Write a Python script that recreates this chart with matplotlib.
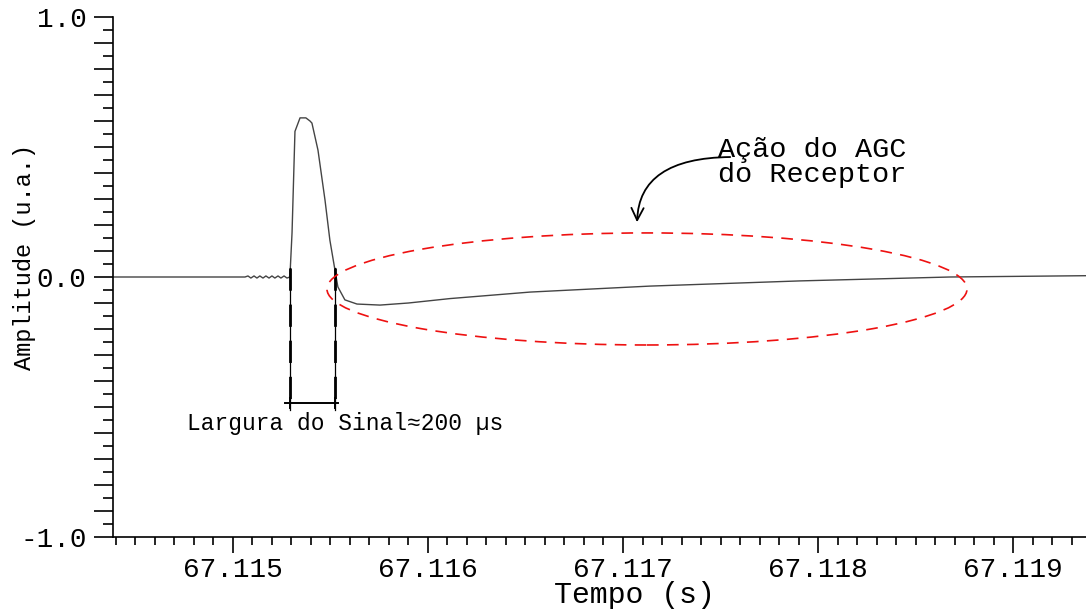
import numpy as np
import matplotlib.pyplot as plt
from matplotlib.patches import Ellipse
from matplotlib.ticker import MultipleLocator, FuncFormatter

# ---------------- DATA ----------------
# time (s) and amplitude (u.a.)
t = [67.114385, 67.115062, 67.115077, 67.115092, 67.115108, 67.115123,
     67.115138, 67.115154, 67.115169, 67.115185, 67.115200, 67.115215,
     67.115231, 67.115246, 67.115262, 67.115277, 67.115292, 67.115303,
     67.115318, 67.115344, 67.115374, 67.115395, 67.115405, 67.115436,
     67.115472, 67.115497, 67.115523, 67.115538, 67.115574, 67.115636,
     67.115754, 67.115900, 67.116113, 67.116523, 67.117138, 67.117908,
     67.118677, 67.119374]
amp = [0.0, 0.0, 0.004, -0.004, 0.004, -0.004,
       0.004, -0.004, 0.004, -0.004, 0.004, -0.004,
       0.004, -0.004, 0.004, -0.004, 0.0, 0.17,
       0.56, 0.612, 0.612, 0.60, 0.592, 0.488,
       0.296, 0.142, 0.027, -0.038, -0.088, -0.104,
       -0.108, -0.100, -0.083, -0.058, -0.035, -0.015,
       0.0, 0.005]

width_marks = [67.115292, 67.115523]   # dashed verticals around the pulse
width_bar = [67.115267, 67.115538]
width_bar_y = -0.485
width_label = "Largura do Sinal\u2248200 \u00b5s"

agc_center = (67.117123, -0.046)
agc_size = (0.003282, 0.431)
agc_label = "A\u00e7\u00e3o do AGC\ndo Receptor"

xticks = [67.115, 67.116, 67.117, 67.118, 67.119]
yticks_labeled = [-1.0, 0.0, 1.0]

# ---------------- PLOT ----------------
FONT = "Liberation Mono"
plt.rcParams["font.family"] = [FONT, "DejaVu Sans"]

fig = plt.figure(figsize=(10.86, 6.11), dpi=100)
ax = fig.add_axes([113 / 1086, 1 - 537 / 611, 1 - 113 / 1086, (537 - 17) / 611])

ax.plot(t, amp, color="#444444", lw=1.0, zorder=3)

# pulse width markers
for xm in width_marks:
    ax.plot([xm, xm], [0.035, -0.51], color="black", lw=0.9, zorder=4)
    ax.plot([xm, xm], [0.035, -0.51], color="black", lw=2.0,
            dashes=(8, 5), zorder=4)
ax.plot(width_bar, [width_bar_y, width_bar_y], color="black", lw=1.4)
for xm in width_marks:
    ax.plot([xm, xm], [width_bar_y + 0.02, width_bar_y - 0.02],
            color="black", lw=1.4)
ax.text(67.114764, -0.565, width_label, fontsize=16.5, va="center",
        ha="left", family=[FONT, "DejaVu Sans"])

# AGC ellipse + arrow
ell = Ellipse(agc_center, agc_size[0], agc_size[1], fill=False,
              edgecolor="#ee1111", lw=1.2, linestyle=(0, (7, 5)), zorder=5)
ax.add_patch(ell)
ax.annotate("", xy=(67.117072, 0.20), xytext=(67.117564, 0.4615),
            arrowprops=dict(arrowstyle="->", color="black", lw=1.3,
                            mutation_scale=22,
                            connectionstyle="angle3,angleA=0,angleB=90"))
ax.text(67.117487, 0.54, agc_label, fontsize=20.5, va="top", ha="left",
        linespacing=0.95)

# axes
ax.set_xlim(67.114385, 67.119374)
ax.set_ylim(-1.0, 1.0)
for s in ["top", "right"]:
    ax.spines[s].set_visible(False)
for s in ["left", "bottom"]:
    ax.spines[s].set_linewidth(1.2)
ax.spines["left"].set_zorder(6)

ax.set_xticks(xticks)
ax.xaxis.set_minor_locator(MultipleLocator(0.0001))
ax.xaxis.set_major_formatter(FuncFormatter(lambda v, p: f"{v:.3f}"))
ax.tick_params(axis="x", which="major", length=11.5, width=1.2,
               labelsize=20, pad=3)
ax.tick_params(axis="x", which="minor", length=6, width=1.2)

ax.yaxis.set_major_locator(MultipleLocator(0.1))
ax.yaxis.set_minor_locator(MultipleLocator(0.05))
ax.yaxis.set_major_formatter(FuncFormatter(
    lambda v, p: f"{v:.1f}" if any(abs(v - k) < 1e-6 for k in yticks_labeled) else ""))
ax.tick_params(axis="y", which="major", length=14, width=1.2,
               labelsize=20, pad=5)
ax.tick_params(axis="y", which="minor", length=7, width=1.2)

ax.set_xlabel("Tempo (s)", fontsize=21.5)
ax.xaxis.set_label_coords(0.536, -0.084)
ax.set_ylabel("Amplitude (u.a.)", fontsize=17)
ax.yaxis.set_label_coords(-0.079, 0.538)

fig.savefig("out.png", dpi=100)
plt.close(fig)
